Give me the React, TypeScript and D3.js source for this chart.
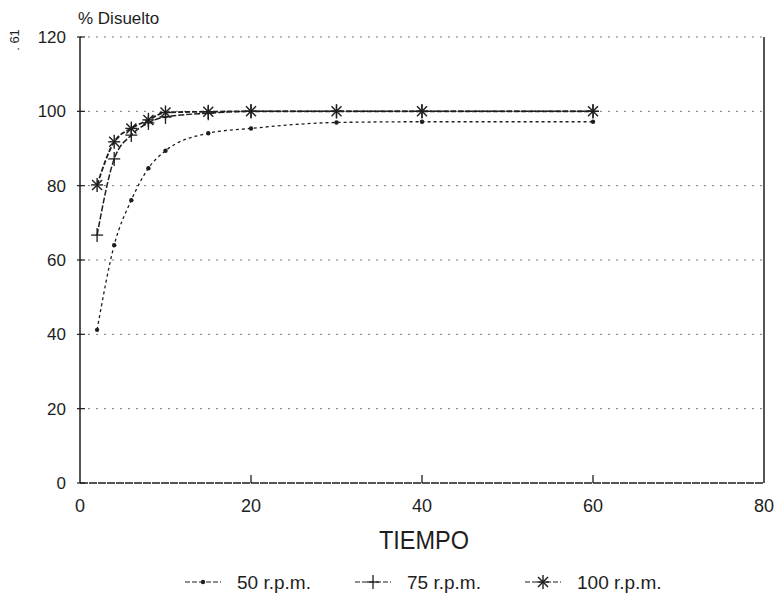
import React from "react";
import * as d3 from "d3";

const time = [2, 4, 6, 8, 10, 15, 20, 30, 40, 60];
const rpm50 = [41.2, 64.0, 76.1, 84.7, 89.4, 94.1, 95.4, 97.0, 97.2, 97.2];
const rpm75 = [66.7, 87.2, 93.6, 96.9, 98.5, 99.5, 100, 100, 100, 100];
const rpm100 = [80.2, 91.8, 95.4, 97.7, 99.7, 99.9, 100, 100, 100, 100];
const seriesNames = ["50 r.p.m.", "75 r.p.m.", "100 r.p.m."];
const xTicks = [0, 20, 40, 60, 80];
const yTicks = [0, 20, 40, 60, 80, 100, 120];

const W = 778;
const H = 604;
const FONT = "'Liberation Sans', Arial, sans-serif";
const INK = "#1e1e1e";

function Marker({ kind, x, y }: { kind: string; x: number; y: number }) {
  if (kind === "dot") return <circle cx={x} cy={y} r={2.2} fill={INK} />;
  if (kind === "plus")
    return (
      <g stroke={INK} strokeWidth={1.3}>
        <line x1={x} y1={y - 7} x2={x} y2={y + 7} />
        <line x1={x - 6} y1={y} x2={x + 6} y2={y} />
      </g>
    );
  return (
    <g stroke={INK} strokeWidth={1.4}>
      <line x1={x} y1={y - 7} x2={x} y2={y + 7} />
      <line x1={x - 6} y1={y} x2={x + 6} y2={y} />
      <line x1={x - 5} y1={y - 5} x2={x + 5} y2={y + 5} />
      <line x1={x - 5} y1={y + 5} x2={x + 5} y2={y - 5} />
    </g>
  );
}

export default function App() {
  const x = d3.scaleLinear().domain([0, 80]).range([80, 764]);
  const y = d3.scaleLinear().domain([0, 120]).range([483, 37]);

  const series = [
    { name: seriesNames[0], values: rpm50, kind: "dot", dash: "3,3", sw: 1.3 },
    { name: seriesNames[1], values: rpm75, kind: "plus", dash: "6,2", sw: 1.5 },
    { name: seriesNames[2], values: rpm100, kind: "star", dash: "5,2", sw: 1.8 },
  ];

  const line = d3
    .line<[number, number]>()
    .x((d) => x(d[0]))
    .y((d) => y(d[1]))
    .curve(d3.curveMonotoneX);

  const legendX = [185, 355, 525];

  return (
    <svg
      width={W}
      height={H}
      style={{ position: "absolute", left: 0, top: 0, background: "#fff" }}
      fontFamily={FONT}
    >
      <rect width={W} height={H} fill="#fff" />
      {yTicks.map((t) => (
        <line
          key={"g" + t}
          x1={x(0)}
          x2={x(80)}
          y1={y(t)}
          y2={y(t)}
          stroke={t === 0 ? INK : "#777"}
          strokeWidth={t === 0 ? 1.4 : 1}
          strokeDasharray={t === 0 ? "8,1" : "2,6"}
        />
      ))}
      <line x1={x(0)} x2={x(0)} y1={y(120)} y2={y(0)} stroke={INK} strokeWidth={1.5} />
      <line x1={x(80)} x2={x(80)} y1={y(120)} y2={y(0)} stroke={INK} strokeWidth={1.5} />
      {yTicks.map((t) => (
        <g key={"yt" + t}>
          <line x1={x(0) - 3} x2={x(0) + 5} y1={y(t)} y2={y(t)} stroke={INK} strokeWidth={1.2} />
          <text x={66} y={y(t)} dy="0.36em" textAnchor="end" fontSize={17} fill={INK}>
            {t}
          </text>
        </g>
      ))}
      {xTicks.map((t) => (
        <g key={"xt" + t}>
          {t > 0 && t < 80 && (
            <line x1={x(t)} x2={x(t)} y1={y(0)} y2={y(0) - 8} stroke={INK} strokeWidth={1.3} />
          )}
          <text x={x(t)} y={506} dy="0.36em" textAnchor="middle" fontSize={18} fill={INK}>
            {t}
          </text>
        </g>
      ))}
      <text x={78} y={24} fontSize={17} fill={INK}>
        % Disuelto
      </text>
      <text
        x={424}
        y={540}
        dy="0.36em"
        textAnchor="middle"
        fontSize={25}
        fill={INK}
        textLength={90}
        lengthAdjust="spacingAndGlyphs"
      >
        TIEMPO
      </text>
      <text transform="translate(19,40) rotate(-90)" textAnchor="middle" fontSize={13} fill={INK}>
        . 61
      </text>
      {series.map((s) => {
        const pts = time.map((t, i) => [t, s.values[i]] as [number, number]);
        return (
          <g key={s.name}>
            <path
              d={line(pts) || ""}
              fill="none"
              stroke={INK}
              strokeWidth={s.sw}
              strokeDasharray={s.dash}
            />
            {pts.map((p, i) => (
              <Marker key={i} kind={s.kind} x={x(p[0])} y={y(p[1])} />
            ))}
          </g>
        );
      })}
      {series.map((s, i) => {
        const lx = legendX[i];
        const ly = 582;
        return (
          <g key={"lg" + s.name}>
            <line x1={lx} x2={lx + 36} y1={ly} y2={ly} stroke={INK} strokeWidth={1.2} strokeDasharray="5,2" />
            <Marker kind={s.kind} x={lx + 18} y={ly} />
            <text x={lx + 52} y={ly} dy="0.36em" fontSize={19} fill={INK}>
              {s.name}
            </text>
          </g>
        );
      })}
    </svg>
  );
}
